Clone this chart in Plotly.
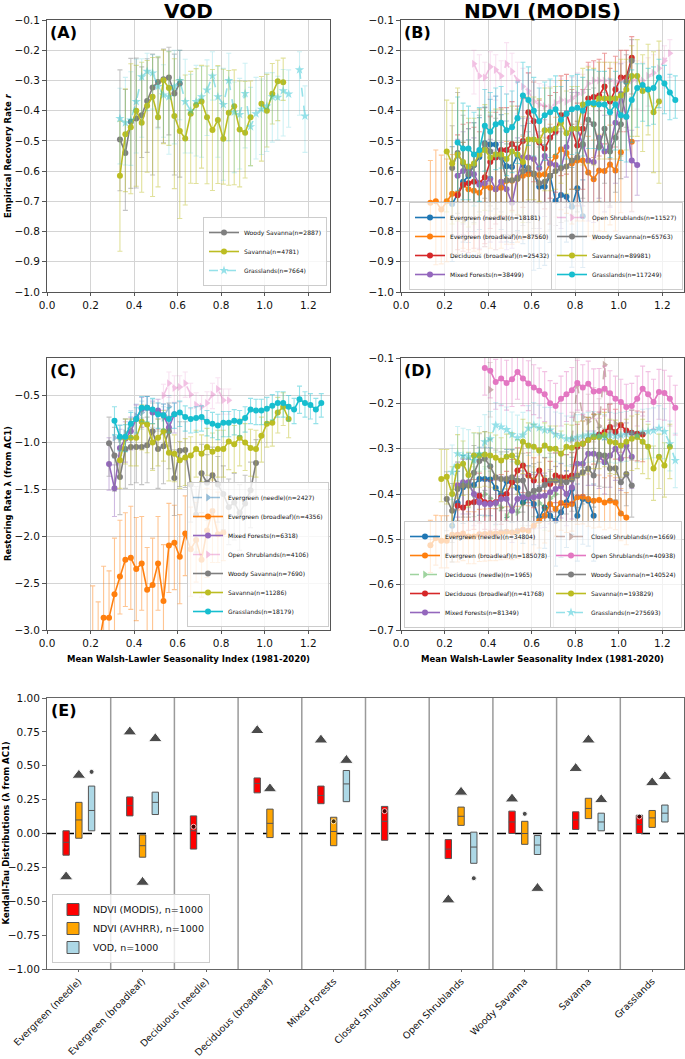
import plotly.graph_objects as go

FONT = "DejaVu Sans"

# ---------------- shared bin centres (Walsh-Lawler seasonality index) ----------------
BINS = [0.135, 0.16, 0.185, 0.21, 0.235, 0.26, 0.285, 0.31, 0.335, 0.36,
        0.385, 0.41, 0.435, 0.46, 0.485, 0.51, 0.535, 0.56, 0.585, 0.61,
        0.635, 0.66, 0.685, 0.71, 0.735, 0.76, 0.785, 0.81, 0.835, 0.86,
        0.885, 0.91, 0.935, 0.96, 0.985, 1.01, 1.035, 1.06, 1.085, 1.11,
        1.135, 1.16, 1.185, 1.21, 1.235, 1.26]

# ---------------- Panel A : VOD, empirical recovery rate ----------------
A_wsv_i0 = 8
A_wsv_y = [-0.495, -0.54, -0.437, -0.426, -0.415, -0.368, -0.323, -0.305, -0.296, -0.29, -0.343, -0.31]
A_wsv_up = [0.23, 0.21, 0.21, 0.20, 0.16, 0.14, 0.11, 0.08, 0.10, 0.10, 0.13, 0.11]
A_wsv_dn = [0.17, 0.19, 0.22, 0.23, 0.14, 0.17, 0.29, 0.15, 0.21, 0.19, 0.27, 0.31]

A_sav_i0 = 8
A_sav_y = [-0.615, -0.478, -0.455, -0.40, -0.44, -0.384, -0.354, -0.422, -0.299, -0.325,
           -0.418, -0.467, -0.492, -0.41, -0.381, -0.37, -0.422, -0.464, -0.431, -0.493,
           -0.407, -0.385, -0.462, -0.473, -0.422, None, -0.377, -0.40, -0.344, -0.303, -0.306]
A_sav_up = [0.18, 0.15, 0.21, 0.15, 0.20, 0.15, 0.13, 0.20, 0.10, 0.12, 0.19, 0.17, 0.21, 0.14, 0.12, 0.12,
            0.17, 0.20, 0.18, 0.23, 0.14, 0.12, 0.16, 0.17, 0.12, 0, 0.09, 0.12, 0.10, 0.07, 0.08]
A_sav_dn = [0.25, 0.19, 0.22, 0.25, 0.23, 0.22, 0.33, 0.23, 0.21, 0.19, 0.24, 0.29, 0.22, 0.23, 0.26, 0.22,
            0.22, 0.20, 0.21, 0.15, 0.24, 0.26, 0.19, 0.15, 0.16, 0, 0.19, 0.12, 0.10, 0.13, 0.06]

A_grs_i0 = 8
A_grs_y = [-0.426, -0.44, -0.431, -0.37, -0.288, -0.27, -0.275, -0.32, -0.348, -0.354,
           -0.32, -0.30, -0.37, -0.40, -0.37, -0.354, -0.332, -0.285, -0.354, -0.38,
           -0.30, -0.405, -0.413, -0.343, -0.453, -0.41, -0.395, -0.385, -0.354, -0.356,
           -0.334, -0.345, None, -0.265, -0.418]
A_grs_up = [0.10, 0.15, 0.16, 0.14, 0.06, 0.06, 0.06, 0.10, 0.10, 0.15, 0.12, 0.10, 0.14, 0.12, 0.12, 0.10,
            0.10, 0.08, 0.10, 0.12, 0.09, 0.10, 0.12, 0.10, 0.13, 0.12, 0.10, 0.11, 0.08, 0.07, 0.07, 0.08,
            0, 0.06, 0.10]
A_grs_dn = [0.15, 0.14, 0.15, 0.17, 0.20, 0.13, 0.12, 0.14, 0.14, 0.19, 0.19, 0.13, 0.17, 0.14, 0.18, 0.20,
            0.15, 0.08, 0.20, 0.25, 0.20, 0.20, 0.18, 0.18, 0.13, 0.15, 0.15, 0.15, 0.15, 0.14, 0.15, 0.11,
            0, 0.15, 0.12]

# ---------------- Panel B : NDVI (MODIS), empirical recovery rate ----------------
B_egn_i0 = 4
B_egn_y = [-0.709, -0.676, -0.635, -0.616, -0.58, -0.553, -0.508, -0.512, -0.512, -0.553,
           -0.584, -0.586, -0.547, -0.58, -0.602, -0.608, -0.652, -0.652, -0.616, -0.698,
           -0.679, -0.685, -0.718, -0.657, -0.749]
B_egn_up = [0.19, 0.12, 0.13, 0.12, 0.14, 0.13, 0.12, 0.15, 0.16, 0.14, 0.15, 0.14, 0.13, 0.13, 0.16, 0.17,
            0.15, 0.14, 0.16, 0.15, 0.15, 0.14, 0.13, 0.14, 0.12]
B_egn_dn = [0.19, 0.20, 0.20, 0.22, 0.22, 0.24, 0.25, 0.22, 0.24, 0.24, 0.25, 0.25, 0.25, 0.26, 0.28, 0.32,
            0.27, 0.26, 0.22, 0.18, 0.20, 0.15, 0.20, 0.16, 0.17]

B_egb_i0 = 0
B_egb_y = [-0.705, -0.70, -0.727, -0.70, -0.675, -0.675, -0.645, -0.66, -0.665, -0.672,
           -0.65, -0.655, -0.66, -0.655, -0.632, -0.632, -0.625, -0.615, -0.61, -0.61,
           -0.613, -0.61, -0.575, -0.552, -0.528, -0.54, -0.575, -0.565, -0.565, -0.605,
           -0.627, -0.598, -0.60, -0.578, -0.598, -0.538, None, -0.503]
B_egb_up = [0.14, 0.17, 0.18, 0.14, 0.13, 0.12, 0.14, 0.13, 0.12, 0.13, 0.12, 0.12, 0.12, 0.12, 0.13, 0.12,
            0.12, 0.13, 0.12, 0.12, 0.13, 0.12, 0.13, 0.13, 0.12, 0.13, 0.13, 0.13, 0.12, 0.12, 0.13, 0.12,
            0.12, 0.13, 0.12, 0.12, 0, 0.14]
B_egb_dn = [0.11, 0.21, 0.18, 0.20, 0.20, 0.20, 0.21, 0.20, 0.20, 0.20, 0.20, 0.20, 0.20, 0.20, 0.21, 0.21,
            0.21, 0.21, 0.21, 0.21, 0.21, 0.21, 0.20, 0.20, 0.20, 0.20, 0.20, 0.20, 0.20, 0.21, 0.20, 0.20,
            0.20, 0.20, 0.20, 0.20, 0, 0.23]

B_dbl_i0 = 5
B_dbl_y = [-0.68, -0.645, -0.64, -0.635, -0.64, -0.62, -0.57, -0.555, -0.53, -0.53,
           -0.51, -0.525, -0.50, -0.405, -0.435, -0.505, -0.525, -0.49, -0.47, -0.415,
           -0.41, -0.46, -0.515, -0.46, -0.36, -0.355, -0.35, -0.32, -0.37, -0.33,
           -0.29, -0.29, -0.225]
B_dbl_up = [0.20, 0.20, 0.20, 0.18, 0.17, 0.16, 0.15, 0.15, 0.14, 0.14, 0.14, 0.14, 0.14, 0.13, 0.13, 0.14,
            0.14, 0.14, 0.13, 0.13, 0.13, 0.13, 0.14, 0.13, 0.12, 0.12, 0.12, 0.11, 0.11, 0.11, 0.09, 0.09, 0.07]
B_dbl_dn = [0.18, 0.22, 0.23, 0.22, 0.22, 0.22, 0.22, 0.22, 0.22, 0.22, 0.22, 0.22, 0.22, 0.20, 0.20, 0.20,
            0.20, 0.20, 0.20, 0.20, 0.20, 0.20, 0.20, 0.20, 0.20, 0.20, 0.20, 0.19, 0.19, 0.19, 0.18, 0.18, 0.12]

B_mix_i0 = 5
B_mix_y = [-0.615, -0.60, -0.59, -0.61, -0.645, -0.64, -0.625, -0.66, -0.635, -0.66,
           -0.705, -0.62, -0.555, -0.555, -0.56, -0.59, -0.55, -0.575, -0.58, -0.59,
           -0.52, -0.46, -0.46, -0.515, -0.565, -0.57, -0.49, -0.535, -0.52, -0.44,
           -0.345, -0.42, -0.565, -0.58]
B_mix_up = [0.12, 0.13, 0.13, 0.12, 0.12, 0.13, 0.13, 0.13, 0.13, 0.13, 0.12, 0.13, 0.13, 0.13, 0.13, 0.12,
            0.12, 0.12, 0.12, 0.13, 0.12, 0.12, 0.12, 0.12, 0.12, 0.12, 0.12, 0.12, 0.12, 0.12, 0.10, 0.10,
            0.10, 0.08]
B_mix_dn = [0.20, 0.21, 0.21, 0.21, 0.21, 0.21, 0.21, 0.20, 0.20, 0.20, 0.15, 0.20, 0.20, 0.20, 0.20, 0.20,
            0.20, 0.20, 0.20, 0.20, 0.20, 0.20, 0.20, 0.20, 0.20, 0.20, 0.20, 0.20, 0.20, 0.20, 0.20, 0.20,
            0.17, 0.10]

B_osh_i0 = 8
B_osh_y = [-0.245, -0.285, -0.29, -0.255, -0.265, -0.285, -0.245, -0.27, -0.30, -0.32,
           -0.335, -0.37, -0.38, -0.385, -0.39, -0.375, -0.365, -0.37, -0.36, -0.345,
           -0.34, -0.31, -0.30, -0.30, -0.30, -0.30, -0.305, -0.30, -0.30, -0.30,
           -0.295, -0.30, -0.285, -0.275, -0.26, -0.235, -0.21]
B_osh_up = [0.045, 0.07, 0.05, 0.05, 0.05, 0.05, 0.07, 0.06, 0.06, 0.06, 0.06, 0.07, 0.07, 0.07, 0.07, 0.07,
            0.07, 0.07, 0.07, 0.07, 0.06, 0.06, 0.06, 0.06, 0.06, 0.06, 0.06, 0.06, 0.06, 0.06, 0.06, 0.06,
            0.06, 0.06, 0.06, 0.05, 0.045]
B_osh_dn = [0.10, 0.11, 0.10, 0.10, 0.10, 0.11, 0.10, 0.10, 0.11, 0.10, 0.10, 0.11, 0.10, 0.10, 0.10, 0.10,
            0.10, 0.10, 0.10, 0.10, 0.10, 0.10, 0.10, 0.10, 0.10, 0.10, 0.10, 0.10, 0.10, 0.10, 0.10, 0.10,
            0.10, 0.10, 0.10, 0.09, 0.08]

B_wsv_i0 = 4
B_wsv_y = [-0.59, -0.54, -0.575, -0.61, -0.58, -0.545, -0.51, -0.535, -0.545, -0.555,
           -0.63, -0.63, -0.625, -0.60, -0.59, -0.61, -0.64, -0.635, -0.615, -0.60,
           -0.59, -0.585, -0.565, -0.555, -0.51, -0.43, -0.445, -0.52, -0.46, -0.535,
           -0.49, -0.445, -0.305, -0.235]
B_wsv_up = [0.14, 0.20, 0.16, 0.15, 0.14, 0.13, 0.12, 0.12, 0.12, 0.12, 0.12, 0.12, 0.12, 0.12, 0.12, 0.12,
            0.12, 0.12, 0.12, 0.12, 0.12, 0.12, 0.12, 0.12, 0.12, 0.10, 0.12, 0.12, 0.12, 0.12, 0.12, 0.10,
            0.09, 0.07]
B_wsv_dn = [0.17, 0.20, 0.20, 0.19, 0.19, 0.19, 0.18, 0.18, 0.18, 0.18, 0.18, 0.18, 0.18, 0.18, 0.18, 0.18,
            0.18, 0.18, 0.18, 0.18, 0.18, 0.18, 0.18, 0.18, 0.18, 0.18, 0.18, 0.18, 0.18, 0.18, 0.18, 0.18,
            0.15, 0.12]

B_sav_i0 = 3
B_sav_y = [-0.535, -0.575, -0.545, -0.57, -0.585, -0.575, -0.545, -0.53, -0.555, -0.545,
           -0.545, -0.56, -0.535, -0.545, -0.57, -0.495, -0.495, -0.50, -0.465, -0.465,
           -0.46, -0.44, -0.475, -0.46, -0.46, -0.38, -0.375, -0.38, -0.36, -0.36,
           -0.36, -0.36, -0.35, -0.33, -0.285, -0.285, -0.335, -0.33, -0.405, -0.37]
B_sav_up = [0.17, 0.20, 0.22, 0.17, 0.16, 0.15, 0.15, 0.15, 0.15, 0.15, 0.15, 0.15, 0.15, 0.15, 0.15, 0.14,
            0.14, 0.14, 0.14, 0.14, 0.14, 0.14, 0.14, 0.14, 0.14, 0.12, 0.12, 0.12, 0.12, 0.12, 0.12, 0.12,
            0.12, 0.10, 0.10, 0.12, 0.12, 0.15, 0.20, 0.20]
B_sav_dn = [0.20, 0.20, 0.22, 0.20, 0.20, 0.20, 0.20, 0.20, 0.20, 0.20, 0.20, 0.20, 0.20, 0.20, 0.20, 0.20,
            0.20, 0.20, 0.20, 0.20, 0.20, 0.20, 0.20, 0.20, 0.20, 0.20, 0.20, 0.20, 0.20, 0.20, 0.20, 0.20,
            0.20, 0.20, 0.20, 0.20, 0.20, 0.15, 0.20, 0.27]

B_grs_i0 = 5
B_grs_y = [-0.505, -0.525, -0.525, -0.545, -0.53, -0.45, -0.47, -0.445, -0.44, -0.465,
           -0.455, -0.425, -0.35, -0.365, -0.40, -0.435, -0.415, -0.405, -0.395, -0.43,
           -0.41, -0.395, -0.39, -0.40, -0.375, -0.375, -0.38, -0.38, -0.405, -0.38,
           -0.415, -0.42, -0.365, -0.325, -0.315, -0.33, -0.325, -0.29, -0.31, -0.34, -0.365]
B_grs_up = [0.15, 0.15, 0.14, 0.14, 0.14, 0.12, 0.13, 0.12, 0.12, 0.12, 0.12, 0.12, 0.11, 0.11, 0.11, 0.11,
            0.11, 0.11, 0.11, 0.11, 0.11, 0.11, 0.11, 0.11, 0.11, 0.11, 0.11, 0.11, 0.11, 0.11, 0.11, 0.11,
            0.10, 0.08, 0.07, 0.07, 0.07, 0.06, 0.06, 0.06, 0.08]
B_grs_dn = [0.16, 0.17, 0.17, 0.17, 0.17, 0.15, 0.15, 0.15, 0.15, 0.15, 0.15, 0.15, 0.15, 0.15, 0.15, 0.15,
            0.15, 0.15, 0.15, 0.15, 0.15, 0.15, 0.15, 0.15, 0.15, 0.15, 0.15, 0.15, 0.15, 0.15, 0.15, 0.15,
            0.14, 0.13, 0.12, 0.12, 0.12, 0.10, 0.10, 0.09, 0.06]

# ---------------- Panel C : VOD, restoring rate ----------------
C_egn_i0 = 7
C_egn_y = [-0.95, -0.96, -0.90, -0.80, -0.72, -0.68, -0.63, -0.66, -0.70, -0.74, -0.62]
C_egn_up = [0.20, 0.15, 0.15, 0.14, 0.13, 0.12, 0.12, 0.12, 0.12, 0.12, 0.12]
C_egn_dn = [0.22, 0.18, 0.20, 0.20, 0.20, 0.18, 0.18, 0.18, 0.18, 0.18, 0.18]

C_egb_i0 = 3
C_egb_y = [-3.30, -3.20, -2.87, -2.87, -2.62, -2.43, -2.25, -2.23, -2.35, -2.29,
           -2.57, -2.52, -2.29, -2.69, -2.10, -2.07, -2.22, -1.97, -2.14, -2.04,
           -2.25, -1.94, -1.73, -1.98, -1.96]
C_egb_up = [0.77, 0.50, 0.55, 0.50, 0.60, 0.60, 0.50, 0.55, 0.55, 0.50, 0.45, 0.50, 0.50, 0.60, 0.45, 0.40,
            0.45, 0.40, 0.45, 0.40, 0.50, 0.45, 0.40, 0.45, 0.40]
C_egb_dn = [0.40, 0.40, 0.40, 0.40, 0.40, 0.40, 0.50, 0.55, 0.55, 0.50, 0.55, 0.50, 0.50, 0.45, 0.50, 0.50,
            0.50, 0.45, 0.50, 0.45, 0.40, 0.50, 0.55, 0.30, 0.30]

C_mix_i0 = 6
C_mix_y = [-1.23, -1.49, -1.06, -0.96, -0.88, -0.75, -0.64, -0.63, -0.68, -0.66, -0.71, -0.84, -0.70]
C_mix_up = [0.28, 0.25, 0.20, 0.18, 0.15, 0.15, 0.12, 0.12, 0.12, 0.12, 0.12, 0.12, 0.12]
C_mix_dn = [0.28, 0.30, 0.30, 0.25, 0.20, 0.20, 0.20, 0.20, 0.20, 0.20, 0.20, 0.20, 0.20]

C_osh_i0 = 16
C_osh_y = [-0.50, -0.37, -0.42, -0.41, -0.37, -0.49, -0.60, -0.62, -0.58, -0.49, -0.43, -0.55, -0.55]
C_osh_up = [0.12, 0.12, 0.13, 0.12, 0.12, 0.12, 0.13, 0.12, 0.12, 0.12, 0.12, 0.12, 0.12]
C_osh_dn = [0.15, 0.15, 0.15, 0.16, 0.15, 0.15, 0.15, 0.15, 0.16, 0.15, 0.15, 0.15, 0.15]

C_wsv_i0 = 6
C_wsv_y = [-1.01, -1.14, -1.37, -1.07, -1.05, -1.05, -1.05, -1.03, -0.88, -1.07,
           -1.04, -0.88, -1.38, -1.09, -1.08, -1.45, -1.77, -1.33, -1.43, -1.35,
           -1.45, -1.55, -1.69, -1.64, -1.75, -1.65, -1.51, -1.22]
C_wsv_up = [0.28, 0.30, 0.30, 0.32, 0.30, 0.30, 0.31, 0.30, 0.30, 0.32, 0.30, 0.30, 0.30, 0.31, 0.30, 0.30,
            0.30, 0.31, 0.30, 0.30, 0.30, 0.30, 0.30, 0.31, 0.30, 0.30, 0.30, 0.25]
C_wsv_dn = [0.35, 0.38, 0.40, 0.42, 0.40, 0.38, 0.40, 0.40, 0.40, 0.42, 0.40, 0.40, 0.40, 0.38, 0.40, 0.40,
            0.40, 0.42, 0.40, 0.40, 0.40, 0.38, 0.40, 0.40, 0.40, 0.38, 0.40, 0.35]

C_sav_i0 = 8
C_sav_y = [-1.19, -0.95, -0.95, -0.95, -0.78, -0.81, -1.00, -0.95, -0.88, -1.11,
           -1.12, -1.19, -1.16, -1.14, -1.07, -1.12, -1.05, -1.10, -1.07, -1.07,
           -0.99, -1.02, -0.95, -1.00, -1.06, -1.07, -0.93, -0.80, -0.79, -0.68, -0.62, -0.75]
C_sav_up = [0.22, 0.20, 0.20, 0.20, 0.18, 0.20, 0.20, 0.20, 0.22, 0.22, 0.20, 0.20, 0.20, 0.20, 0.20, 0.20,
            0.20, 0.20, 0.20, 0.20, 0.20, 0.20, 0.20, 0.20, 0.20, 0.20, 0.20, 0.18, 0.18, 0.16, 0.15, 0.15]
C_sav_dn = [0.30, 0.28, 0.30, 0.30, 0.30, 0.30, 0.30, 0.30, 0.32, 0.30, 0.30, 0.30, 0.30, 0.30, 0.30, 0.30,
            0.30, 0.30, 0.30, 0.30, 0.30, 0.30, 0.30, 0.30, 0.30, 0.30, 0.28, 0.25, 0.25, 0.22, 0.20, 0.20]

C_grs_i0 = 7
C_grs_y = [-0.77, -0.94, -0.94, -0.80, -0.75, -0.63, -0.63, -0.65, -0.70, -0.71,
           -0.75, -0.70, -0.68, -0.73, -0.75, -0.74, -0.73, -0.78, -0.80, -0.82,
           -0.79, -0.79, -0.77, -0.78, -0.74, -0.65, -0.66, -0.66, -0.64, -0.61,
           -0.58, -0.58, -0.62, -0.65, -0.54, -0.58, -0.60, -0.65, -0.58]
C_grs_up = [0.15, 0.12, 0.13, 0.12, 0.12, 0.12, 0.12, 0.12, 0.12, 0.12, 0.12, 0.12, 0.12, 0.12, 0.12, 0.12,
            0.12, 0.12, 0.12, 0.12, 0.12, 0.12, 0.12, 0.12, 0.12, 0.12, 0.12, 0.12, 0.12, 0.12, 0.12, 0.12,
            0.12, 0.12, 0.14, 0.12, 0.12, 0.12, 0.10]
C_grs_dn = [0.15, 0.15, 0.16, 0.15, 0.15, 0.15, 0.15, 0.15, 0.15, 0.15, 0.15, 0.15, 0.15, 0.15, 0.15, 0.15,
            0.15, 0.15, 0.15, 0.15, 0.15, 0.15, 0.15, 0.15, 0.15, 0.15, 0.15, 0.15, 0.15, 0.15, 0.15, 0.15,
            0.15, 0.15, 0.15, 0.15, 0.15, 0.15, 0.15]

# ---------------- Panel D : NDVI (MODIS), restoring rate ----------------
D_egn_i0 = 4
D_egn_y = [-0.47, -0.42, -0.385, -0.38, -0.38, -0.367, -0.367, -0.368, -0.387, -0.40,
           -0.372, -0.372, -0.387, -0.419, -0.407, -0.422, -0.452, -0.43, -0.448, -0.459,
           -0.44, -0.418, -0.389, -0.448, -0.411, -0.415, -0.448]
D_egn_up = [0.08, 0.07, 0.07, 0.07, 0.07, 0.07, 0.07, 0.07, 0.07, 0.07, 0.07, 0.07, 0.07, 0.07, 0.07, 0.07,
            0.07, 0.07, 0.07, 0.07, 0.07, 0.07, 0.07, 0.07, 0.07, 0.07, 0.07]
D_egn_dn = [0.08, 0.08, 0.08, 0.08, 0.08, 0.08, 0.08, 0.08, 0.08, 0.08, 0.08, 0.09, 0.09, 0.09, 0.09, 0.09,
            0.09, 0.09, 0.09, 0.10, 0.10, 0.10, 0.10, 0.10, 0.10, 0.10, 0.10]

D_egb_i0 = 0
D_egb_y = [-0.513, -0.497, -0.503, -0.503, -0.49, -0.49, -0.487, -0.494, -0.494, -0.489,
           -0.488, -0.487, -0.487, -0.485, -0.483, -0.485, -0.482, -0.479, -0.481, -0.47,
           -0.459, -0.448, -0.422, -0.433, -0.42, -0.425, -0.422, -0.407, -0.406, -0.411,
           -0.415, -0.413, -0.419, -0.415, -0.419, -0.443, -0.452]
D_egb_up = [0.055, 0.05, 0.055, 0.055, 0.055, 0.055, 0.055, 0.055, 0.055, 0.055, 0.055, 0.055, 0.055, 0.055,
            0.055, 0.055, 0.055, 0.055, 0.055, 0.055, 0.055, 0.055, 0.055, 0.055, 0.055, 0.055, 0.055, 0.055,
            0.055, 0.055, 0.055, 0.055, 0.055, 0.055, 0.055, 0.055, 0.055]
D_egb_dn = [0.06, 0.06, 0.06, 0.06, 0.06, 0.06, 0.06, 0.06, 0.06, 0.06, 0.06, 0.06, 0.06, 0.06, 0.06, 0.06,
            0.06, 0.06, 0.06, 0.06, 0.06, 0.06, 0.06, 0.06, 0.06, 0.06, 0.06, 0.06, 0.06, 0.06, 0.06, 0.06,
            0.06, 0.06, 0.06, 0.06, 0.06]

D_dnd_i0 = 7
D_dnd_y = [-0.38, -0.40, -0.41, -0.40, -0.41, -0.42, -0.43, -0.45, -0.43, -0.44, -0.42, -0.41, -0.40,
           -0.42, -0.43, -0.41, -0.40]
D_dnd_up = [0.06, 0.06, 0.06, 0.06, 0.06, 0.06, 0.06, 0.06, 0.06, 0.06, 0.06, 0.06, 0.06, 0.06, 0.06, 0.06, 0.06]
D_dnd_dn = [0.05, 0.05, 0.05, 0.05, 0.05, 0.05, 0.05, 0.05, 0.05, 0.05, 0.05, 0.05, 0.05, 0.05, 0.05, 0.05, 0.05]

D_dbl_i0 = 5
D_dbl_y = [-0.426, -0.43, -0.42, -0.418, -0.404, -0.418, -0.42, -0.418, -0.407, -0.40,
           -0.374, -0.348, -0.337, -0.359, -0.37, -0.348, -0.37, -0.378, -0.359, -0.363,
           -0.363, -0.359, -0.296, -0.289, -0.281, -0.274, -0.269, -0.263, -0.252, -0.263,
           -0.248, -0.26, -0.265, -0.267, -0.269]
D_dbl_up = [0.05, 0.05, 0.05, 0.05, 0.05, 0.05, 0.05, 0.05, 0.05, 0.05, 0.05, 0.05, 0.05, 0.05, 0.05, 0.05,
            0.05, 0.05, 0.05, 0.05, 0.05, 0.05, 0.05, 0.05, 0.05, 0.05, 0.05, 0.05, 0.05, 0.05, 0.05, 0.05,
            0.05, 0.05, 0.05]
D_dbl_dn = [0.06, 0.06, 0.06, 0.06, 0.06, 0.06, 0.06, 0.06, 0.06, 0.06, 0.06, 0.06, 0.06, 0.06, 0.06, 0.06,
            0.06, 0.06, 0.06, 0.06, 0.06, 0.06, 0.06, 0.06, 0.06, 0.06, 0.06, 0.06, 0.06, 0.06, 0.06, 0.06,
            0.06, 0.06, 0.06]

D_mix_i0 = 5
D_mix_y = [-0.381, -0.374, -0.374, -0.40, -0.419, -0.422, -0.422, -0.42, -0.411, -0.411,
           -0.437, -0.411, -0.407, -0.407, -0.407, -0.405, -0.404, -0.396, -0.389, -0.383,
           -0.40, -0.385, -0.333, -0.333, -0.311, -0.311, -0.318, -0.33, -0.315, -0.30,
           -0.322, -0.293, -0.318]
D_mix_up = [0.05, 0.05, 0.05, 0.05, 0.05, 0.05, 0.05, 0.05, 0.05, 0.05, 0.05, 0.05, 0.05, 0.05, 0.05, 0.05,
            0.05, 0.05, 0.05, 0.05, 0.05, 0.05, 0.05, 0.05, 0.05, 0.05, 0.05, 0.05, 0.05, 0.05, 0.05, 0.05, 0.05]
D_mix_dn = [0.07, 0.07, 0.07, 0.07, 0.07, 0.07, 0.07, 0.07, 0.07, 0.07, 0.07, 0.07, 0.07, 0.07, 0.07, 0.07,
            0.07, 0.07, 0.07, 0.07, 0.07, 0.07, 0.07, 0.07, 0.07, 0.07, 0.07, 0.07, 0.07, 0.07, 0.07, 0.07, 0.07]

D_csh_i0 = 11
D_csh_y = [-0.17, None, None, None, None, None, None, None, None, None, None, None, None, None, None,
           -0.28, -0.16, -0.23, -0.24, -0.225, -0.25, -0.115, -0.26, -0.245]
D_csh_up = [0.06, 0, 0, 0, 0, 0, 0, 0, 0, 0, 0, 0, 0, 0, 0, 0.06, 0.06, 0.06, 0.06, 0.06, 0.06, 0.06, 0.06, 0.06]
D_csh_dn = [0.06, 0, 0, 0, 0, 0, 0, 0, 0, 0, 0, 0, 0, 0, 0, 0.06, 0.06, 0.06, 0.06, 0.06, 0.06, 0.06, 0.06, 0.06]

D_osh_i0 = 10
D_osh_y = [-0.122, -0.128, -0.153, -0.145, -0.155, -0.147, -0.131, -0.145, -0.156, -0.165,
           -0.172, -0.18, -0.20, -0.206, -0.19, -0.18, -0.171, -0.155, -0.165, -0.157,
           -0.174, -0.173, -0.168, -0.178, -0.19, -0.197, -0.208, -0.206, -0.19, -0.168,
           -0.18, -0.197, -0.175, -0.177, -0.19, -0.21]
D_osh_up = [0.04, 0.04, 0.05, 0.05, 0.05, 0.05, 0.05, 0.05, 0.05, 0.05, 0.05, 0.05, 0.05, 0.05, 0.05, 0.05,
            0.05, 0.05, 0.05, 0.05, 0.05, 0.05, 0.05, 0.05, 0.05, 0.05, 0.05, 0.05, 0.05, 0.05, 0.05, 0.05,
            0.05, 0.05, 0.05, 0.05]
D_osh_dn = [0.06, 0.06, 0.06, 0.06, 0.06, 0.06, 0.06, 0.06, 0.06, 0.06, 0.06, 0.06, 0.06, 0.06, 0.06, 0.06,
            0.06, 0.06, 0.06, 0.06, 0.06, 0.06, 0.06, 0.06, 0.06, 0.06, 0.06, 0.06, 0.06, 0.06, 0.06, 0.06,
            0.06, 0.06, 0.06, 0.06]

D_wsv_i0 = 3
D_wsv_y = [-0.411, -0.437, -0.389, -0.381, -0.381, -0.353, -0.327, -0.322, -0.339, -0.363,
           -0.367, -0.367, -0.363, -0.37, -0.37, -0.40, -0.393, -0.39, -0.38, -0.37,
           -0.37, -0.372, -0.374, -0.368, -0.36, -0.352, -0.344, -0.359, -0.313, -0.315,
           -0.344, -0.343, -0.374, -0.356, -0.381]
D_wsv_up = [0.06, 0.06, 0.06, 0.06, 0.06, 0.06, 0.06, 0.06, 0.06, 0.06, 0.06, 0.06, 0.06, 0.06, 0.06, 0.06,
            0.06, 0.06, 0.06, 0.06, 0.06, 0.06, 0.06, 0.06, 0.06, 0.06, 0.06, 0.06, 0.06, 0.06, 0.06, 0.06,
            0.06, 0.06, 0.06]
D_wsv_dn = [0.07, 0.07, 0.07, 0.07, 0.07, 0.07, 0.07, 0.07, 0.07, 0.07, 0.07, 0.07, 0.07, 0.07, 0.07, 0.07,
            0.07, 0.07, 0.07, 0.07, 0.07, 0.07, 0.07, 0.07, 0.07, 0.07, 0.07, 0.07, 0.07, 0.07, 0.07, 0.07,
            0.07, 0.07, 0.07]

D_sav_i0 = 2
D_sav_y = [-0.367, -0.362, -0.40, -0.339, -0.333, -0.358, -0.315, -0.315, -0.313, -0.315,
           -0.32, -0.326, -0.318, -0.315, -0.33, -0.285, -0.293, -0.296, -0.304, -0.293,
           -0.30, -0.30, -0.311, -0.296, -0.298, -0.291, -0.289, -0.281, -0.274, -0.274,
           -0.27, -0.285, -0.287, -0.293, -0.285, -0.278, -0.274, -0.285, -0.296, -0.344,
           -0.318, -0.337, -0.296]
D_sav_up = [0.065, 0.06, 0.06, 0.07, 0.05, 0.05, 0.05, 0.05, 0.05, 0.05, 0.05, 0.05, 0.05, 0.05, 0.05, 0.05,
            0.05, 0.05, 0.05, 0.05, 0.05, 0.05, 0.05, 0.05, 0.05, 0.05, 0.05, 0.05, 0.05, 0.05, 0.05, 0.05,
            0.05, 0.05, 0.05, 0.05, 0.05, 0.05, 0.05, 0.05, 0.05, 0.05, 0.05]
D_sav_dn = [0.05, 0.06, 0.07, 0.07, 0.07, 0.07, 0.07, 0.07, 0.07, 0.07, 0.07, 0.07, 0.07, 0.07, 0.07, 0.07,
            0.07, 0.07, 0.07, 0.07, 0.07, 0.07, 0.07, 0.07, 0.07, 0.07, 0.07, 0.07, 0.07, 0.07, 0.07, 0.07,
            0.07, 0.07, 0.07, 0.07, 0.07, 0.07, 0.07, 0.07, 0.07, 0.07, 0.07]

D_grs_i0 = 4
D_grs_y = [-0.352, -0.311, -0.315, -0.318, -0.326, -0.311, -0.285, -0.278, -0.248, -0.252,
           -0.258, -0.269, -0.276, -0.27, -0.255, -0.248, -0.254, -0.259, -0.259, -0.269,
           -0.272, -0.278, -0.278, -0.275, -0.272, -0.27, -0.268, -0.272, -0.275, -0.27,
           -0.272, -0.27, -0.268, -0.265, -0.27, -0.263, -0.262, -0.26, -0.255, -0.262,
           -0.289, -0.326]
D_grs_up = [0.06, 0.06, 0.06, 0.06, 0.06, 0.06, 0.06, 0.06, 0.05, 0.05, 0.05, 0.05, 0.05, 0.05, 0.05, 0.05,
            0.05, 0.05, 0.05, 0.05, 0.05, 0.05, 0.05, 0.05, 0.05, 0.05, 0.05, 0.05, 0.05, 0.05, 0.05, 0.05,
            0.05, 0.05, 0.05, 0.05, 0.05, 0.05, 0.05, 0.05, 0.05, 0.06]
D_grs_dn = [0.06, 0.06, 0.06, 0.06, 0.06, 0.06, 0.06, 0.06, 0.06, 0.06, 0.06, 0.06, 0.06, 0.06, 0.06, 0.06,
            0.06, 0.06, 0.06, 0.06, 0.06, 0.06, 0.06, 0.06, 0.06, 0.06, 0.06, 0.06, 0.06, 0.06, 0.06, 0.06,
            0.06, 0.06, 0.06, 0.06, 0.06, 0.06, 0.06, 0.06, 0.06, 0.06]

# ---------------- Panel E : Kendall-Tau distributions ----------------
E_cats = ["Evergreen (needle)", "Evergreen (broadleaf)", "Deciduous (needle)", "Deciduous (broadleaf)",
          "Mixed Forests", "Closed Shrublands", "Open Shrublands", "Woody Savanna", "Savanna", "Grasslands"]
E_modis_q1 = [-0.16, 0.13, -0.115, 0.30, 0.22, -0.05, -0.185, 0.0, 0.03, 0.0]
E_modis_med = [-0.065, 0.205, 0.02, 0.37, 0.28, 0.09, -0.115, 0.085, 0.10, 0.065]
E_modis_q3 = [0.02, 0.27, 0.13, 0.41, 0.35, 0.20, -0.045, 0.165, 0.16, 0.135]
E_modis_obs = [-0.32, 0.75, 0.05, 0.76, 0.69, 0.165, -0.49, 0.255, 0.48, 0.125]
E_modis_kind = ["tri", "tri", "dot", "tri", "tri", "dot", "tri", "tri", "tri", "dot"]

E_avhrr_q1 = [-0.035, -0.175, None, -0.03, -0.09, None, 0.06, -0.08, 0.11, 0.045]
E_avhrr_med = [0.10, -0.09, None, 0.075, 0.015, None, 0.127, 0.0, 0.185, 0.115]
E_avhrr_q3 = [0.23, -0.01, None, 0.18, 0.12, None, 0.195, 0.09, 0.26, 0.17]
E_avhrr_obs = [0.43, -0.36, None, 0.33, 0.09, None, 0.305, 0.145, 0.69, 0.375]
E_avhrr_kind = ["tri", "tri", None, "tri", "dot", None, "tri", "dot", "tri", "tri"]

E_vod_q1 = [0.02, 0.14, None, None, 0.235, None, -0.22, -0.155, 0.02, 0.085]
E_vod_med = [0.17, 0.23, None, None, 0.366, None, -0.10, -0.085, 0.085, 0.15]
E_vod_q3 = [0.35, 0.305, None, None, 0.465, None, 0.01, -0.015, 0.15, 0.21]
E_vod_obs = [0.455, 0.70, None, None, 0.54, None, -0.33, -0.405, 0.25, 0.42]
E_vod_kind = ["dot", "tri", None, None, "tri", None, "dot", "tri", "tri", "tri"]

# ---------------- styling ----------------
C_BLUE, C_ORANGE, C_GREEN, C_RED = "#1f77b4", "#ff7f0e", "#2ca02c", "#d62728"
C_PURPLE, C_BROWN, C_PINK, C_GRAY = "#9467bd", "#8c564b", "#e377c2", "#7f7f7f"
C_OLIVE, C_CYAN = "#bcbd22", "#17becf"


def rgba(hexc, a):
    h = hexc.lstrip("#")
    return "rgba(%d,%d,%d,%.2f)" % (int(h[0:2], 16), int(h[2:4], 16), int(h[4:6], 16), a)


fig = go.Figure()


def fit(lst, n):
    lst = list(lst)[:n]
    return lst + [0] * (n - len(lst))


def series(k, legend, name, i0, y, up, dn, color, faded=False, symbol="circle"):
    n = len(y)
    x = BINS[i0:i0 + n]
    up = [u if v is not None else 0 for u, v in zip(fit(up, n), y)]
    dn = [d if v is not None else 0 for d, v in zip(fit(dn, n), y)]
    suffix = "" if k == 1 else str(k)
    fig.add_trace(go.Scatter(
        x=x, y=y, mode="lines+markers", name=name,
        legend=legend, xaxis="x" + suffix, yaxis="y" + suffix,
        line=dict(color=color, width=1.6, dash="dash" if faded else "solid"),
        marker=dict(symbol=symbol, size=7 if symbol != "circle" else 6, color=color,
                    line=dict(width=0)),
        opacity=0.45 if faded else 1.0,
        error_y=dict(type="data", symmetric=False, array=up, arrayminus=dn,
                     color=rgba(color, 0.45), thickness=1.1, width=2.5),
        hoverinfo="skip"))


# Panel A
series(1, "legend", "Woody Savanna(n=2887)", A_wsv_i0, A_wsv_y, A_wsv_up, A_wsv_dn, C_GRAY)
series(1, "legend", "Savanna(n=4781)", A_sav_i0, A_sav_y, A_sav_up, A_sav_dn, C_OLIVE)
series(1, "legend", "Grasslands(n=7664)", A_grs_i0, A_grs_y, A_grs_up, A_grs_dn, C_CYAN, True, "star")
# Panel B (legend split over two columns)
series(2, "legend2", "Evergreen (needle)(n=18181)", B_egn_i0, B_egn_y, B_egn_up, B_egn_dn, C_BLUE)
series(2, "legend2", "Evergreen (broadleaf)(n=87560)", B_egb_i0, B_egb_y, B_egb_up, B_egb_dn, C_ORANGE)
series(2, "legend2", "Deciduous (broadleaf)(n=25432)", B_dbl_i0, B_dbl_y, B_dbl_up, B_dbl_dn, C_RED)
series(2, "legend2", "Mixed Forests(n=38499)", B_mix_i0, B_mix_y, B_mix_up, B_mix_dn, C_PURPLE)
series(2, "legend6", "Open Shrublands(n=11527)", B_osh_i0, B_osh_y, B_osh_up, B_osh_dn, C_PINK, True,
       "triangle-right")
series(2, "legend6", "Woody Savanna(n=65763)", B_wsv_i0, B_wsv_y, B_wsv_up, B_wsv_dn, C_GRAY)
series(2, "legend6", "Savanna(n=89981)", B_sav_i0, B_sav_y, B_sav_up, B_sav_dn, C_OLIVE)
series(2, "legend6", "Grasslands(n=117249)", B_grs_i0, B_grs_y, B_grs_up, B_grs_dn, C_CYAN)
# Panel C
series(3, "legend3", "Evergreen (needle)(n=2427)", C_egn_i0, C_egn_y, C_egn_up, C_egn_dn, C_BLUE, True,
       "triangle-right")
series(3, "legend3", "Evergreen (broadleaf)(n=4356)", C_egb_i0, C_egb_y, C_egb_up, C_egb_dn, C_ORANGE)
series(3, "legend3", "Mixed Forests(n=6318)", C_mix_i0, C_mix_y, C_mix_up, C_mix_dn, C_PURPLE)
series(3, "legend3", "Open Shrublands(n=4106)", C_osh_i0, C_osh_y, C_osh_up, C_osh_dn, C_PINK, True,
       "triangle-right")
series(3, "legend3", "Woody Savanna(n=7690)", C_wsv_i0, C_wsv_y, C_wsv_up, C_wsv_dn, C_GRAY)
series(3, "legend3", "Savanna(n=11286)", C_sav_i0, C_sav_y, C_sav_up, C_sav_dn, C_OLIVE)
series(3, "legend3", "Grasslands(n=18179)", C_grs_i0, C_grs_y, C_grs_up, C_grs_dn, C_CYAN)
# Panel D (legend split over two columns)
series(4, "legend4", "Evergreen (needle)(n=34804)", D_egn_i0, D_egn_y, D_egn_up, D_egn_dn, C_BLUE)
series(4, "legend4", "Evergreen (broadleaf)(n=185078)", D_egb_i0, D_egb_y, D_egb_up, D_egb_dn, C_ORANGE)
series(4, "legend4", "Deciduous (needle)(n=1965)", D_dnd_i0, D_dnd_y, D_dnd_up, D_dnd_dn, C_GREEN, True,
       "triangle-right")
series(4, "legend4", "Deciduous (broadleaf)(n=41768)", D_dbl_i0, D_dbl_y, D_dbl_up, D_dbl_dn, C_RED)
series(4, "legend4", "Mixed Forests(n=81349)", D_mix_i0, D_mix_y, D_mix_up, D_mix_dn, C_PURPLE)
series(4, "legend7", "Closed Shrublands(n=1669)", D_csh_i0, D_csh_y, D_csh_up, D_csh_dn, C_BROWN, True,
       "triangle-right")
series(4, "legend7", "Open Shrublands(n=40938)", D_osh_i0, D_osh_y, D_osh_up, D_osh_dn, C_PINK)
series(4, "legend7", "Woody Savanna(n=140524)", D_wsv_i0, D_wsv_y, D_wsv_up, D_wsv_dn, C_GRAY)
series(4, "legend7", "Savanna(n=193829)", D_sav_i0, D_sav_y, D_sav_up, D_sav_dn, C_OLIVE)
series(4, "legend7", "Grasslands(n=275693)", D_grs_i0, D_grs_y, D_grs_up, D_grs_dn, C_CYAN, True, "star")

# Panel E boxes
E_OFFSET = {"modis": -0.2, "avhrr": 0.0, "vod": 0.2}


def e_group(key, name, color, q1, med, q3, obs, kind):
    idx = [i for i, v in enumerate(med) if v is not None]
    xs = [i + E_OFFSET[key] for i in idx]
    fig.add_trace(go.Box(
        x=xs, q1=[q1[i] for i in idx], median=[med[i] for i in idx], q3=[q3[i] for i in idx],
        lowerfence=[q1[i] for i in idx], upperfence=[q3[i] for i in idx],
        width=0.1, whiskerwidth=0, fillcolor=color, line=dict(color="#555555", width=1),
        name=name, legend="legend5", xaxis="x5", yaxis="y5", boxpoints=False, hoverinfo="skip"))
    oi = [i for i, v in enumerate(obs) if v is not None]
    fig.add_trace(go.Scatter(
        x=[i + E_OFFSET[key] for i in oi], y=[obs[i] for i in oi], mode="markers",
        marker=dict(symbol=["triangle-up" if kind[i] == "tri" else "circle" for i in oi],
                    size=[12 if kind[i] == "tri" else 5 for i in oi], color="black"),
        showlegend=False, xaxis="x5", yaxis="y5", hoverinfo="skip"))


e_group("modis", "NDVI (MODIS), n=1000", "#ff0000", E_modis_q1, E_modis_med, E_modis_q3, E_modis_obs, E_modis_kind)
e_group("avhrr", "NDVI (AVHRR), n=1000", "#ffa500", E_avhrr_q1, E_avhrr_med, E_avhrr_q3, E_avhrr_obs, E_avhrr_kind)
e_group("vod", "VOD, n=1000", "#add8e6", E_vod_q1, E_vod_med, E_vod_q3, E_vod_obs, E_vod_kind)

# ---------------- layout ----------------
W, H = 685, 1059
XL = [47 / W, 330 / W]
XR = [401 / W, 684 / W]
YTOP = [1 - 292 / H, 1 - 20 / H]
YMID = [1 - 630 / H, 1 - 358 / H]
YBOT = [1 - 969 / H, 1 - 698 / H]

TICKF = dict(family=FONT, size=10.5, color="#111")
GRID = "#d4d4d4"
LINEC = "#555555"


def xax(dom, anchor):
    return dict(domain=dom, anchor=anchor, range=[0, 1.3], tick0=0, dtick=0.2, tickformat=".1f",
                showgrid=True, gridcolor=GRID, gridwidth=1, zeroline=False, automargin=False,
                showline=True, mirror=True, linecolor=LINEC, linewidth=1,
                ticks="outside", ticklen=3, tickcolor=LINEC, tickfont=TICKF)


def yax(dom, anchor, rng, dt):
    return dict(domain=dom, anchor=anchor, range=rng, tick0=0, dtick=dt, tickformat=".1f",
                showgrid=True, gridcolor=GRID, gridwidth=1, zeroline=False, automargin=False,
                showline=True, mirror=True, linecolor=LINEC, linewidth=1,
                ticks="outside", ticklen=4, tickcolor=LINEC, tickfont=TICKF)


def leg(x, y, xanchor="right", size=6, alpha=0.8):
    return dict(x=x, y=y, xanchor=xanchor, yanchor="bottom", xref="paper", yref="paper",
                font=dict(family=FONT, size=size, color="#111"),
                bgcolor="rgba(255,255,255,%.2f)" % alpha, bordercolor="#cccccc", borderwidth=1,
                itemwidth=30, tracegroupgap=0)


layout = dict(
    width=W, height=H, margin=dict(l=0, r=0, t=0, b=0, autoexpand=False),
    paper_bgcolor="white", plot_bgcolor="white",
    font=dict(family=FONT, color="#111"),
    showlegend=True, boxmode="overlay",
    xaxis=xax(XL, "y"), yaxis=yax(YTOP, "x", [-1.0, -0.1], 0.1),
    xaxis2=xax(XR, "y2"), yaxis2=yax(YTOP, "x2", [-1.0, -0.1], 0.1),
    xaxis3=xax(XL, "y3"), yaxis3=yax(YMID, "x3", [-3.0, -0.1], 0.5),
    xaxis4=xax(XR, "y4"), yaxis4=yax(YMID, "x4", [-0.7, -0.1], 0.1),
    xaxis5=dict(domain=[XL[0], XR[1]], anchor="y5", range=[-0.5, len(E_cats) - 0.5],
                tickmode="array", tickvals=list(range(len(E_cats))), ticktext=E_cats,
                tickangle=-45, showgrid=False, zeroline=False, showline=True, mirror=True,
                linecolor="#666", linewidth=1, ticks="outside", ticklen=2, tickcolor="#666",
                tickfont=dict(family=FONT, size=9.5, color="#111"), automargin=False),
    yaxis5=dict(domain=YBOT, anchor="x5", range=[-1.0, 1.0], tick0=0, dtick=0.25, tickformat=".2f",
                showgrid=False, zeroline=False, showline=True, mirror=True, linecolor="#666",
                linewidth=1, ticks="outside", ticklen=4, tickcolor="#666", tickfont=TICKF,
                automargin=False),
    legend=leg(327 / W, 1 - 286 / H),
    legend2=leg(556 / W, 1 - 290 / H, alpha=0.7),
    legend6=leg(683 / W, 1 - 290 / H, alpha=0.7),
    legend3=leg(329 / W, 1 - 627 / H),
    legend4=leg(554 / W, 1 - 628 / H, alpha=0.7),
    legend7=leg(682 / W, 1 - 628 / H, alpha=0.7),
    legend5=leg(52 / W, 1 - 963 / H, "left", 9.5),
)
fig.update_layout(**layout)

# separators and zero line for panel E
shapes = []
for i in range(len(E_cats) - 1):
    shapes.append(dict(type="line", xref="x5", yref="y5 domain", x0=i + 0.5, x1=i + 0.5, y0=0, y1=1,
                       line=dict(color="#9a9a9a", width=1.5), layer="below"))
shapes.append(dict(type="line", xref="x5 domain", yref="y5", x0=0, x1=1, y0=0, y1=0,
                   line=dict(color="black", width=1.4, dash="dash"), layer="below"))
fig.update_layout(shapes=shapes)

ann = []
ann.append(dict(text="<b>VOD</b>", x=(XL[0] + XL[1]) / 2, y=1 - 11 / H, xref="paper", yref="paper",
                xanchor="center", yanchor="middle", showarrow=False,
                font=dict(family=FONT, size=20, color="black")))
ann.append(dict(text="<b>NDVI (MODIS)</b>", x=(XR[0] + XR[1]) / 2, y=1 - 11 / H, xref="paper",
                yref="paper", xanchor="center", yanchor="middle", showarrow=False,
                font=dict(family=FONT, size=20, color="black")))
for lab, ax in [("(A)", ""), ("(B)", "2"), ("(C)", "3"), ("(D)", "4"), ("(E)", "5")]:
    ann.append(dict(text="<b>%s</b>" % lab, x=0.003, y=0.998, xref="x%s domain" % ax,
                    yref="y%s domain" % ax, xanchor="left", yanchor="top", showarrow=False,
                    font=dict(family=FONT, size=16, color="black")))
ann.append(dict(text="<b>Empirical Recovery Rate <i>r</i></b>", x=8 / W, y=(YTOP[0] + YTOP[1]) / 2,
                xref="paper", yref="paper", xanchor="center", yanchor="middle", textangle=-90,
                showarrow=False, font=dict(family=FONT, size=8.5, color="black")))
ann.append(dict(text="<b>Restoring Rate λ (from AC1)</b>", x=8 / W, y=(YMID[0] + YMID[1]) / 2,
                xref="paper", yref="paper", xanchor="center", yanchor="middle", textangle=-90,
                showarrow=False, font=dict(family=FONT, size=8.5, color="black")))
ann.append(dict(text="<b>Kendall-Tau Distributions (λ from AC1)</b>", x=5 / W,
                y=(YBOT[0] + YBOT[1]) / 2, xref="paper", yref="paper", xanchor="center",
                yanchor="middle", textangle=-90, showarrow=False,
                font=dict(family=FONT, size=8.5, color="black")))
for dom in (XL, XR):
    ann.append(dict(text="<b>Mean Walsh-Lawler Seasonality Index (1981-2020)</b>",
                    x=(dom[0] + dom[1]) / 2, y=1 - 652 / H, xref="paper", yref="paper",
                    xanchor="center", yanchor="top", showarrow=False,
                    font=dict(family=FONT, size=8.5, color="black")))
fig.update_layout(annotations=ann)

fig.write_html("out.html", config={"displayModeBar": False},
               post_script="document.body.style.margin='0px';"
                           "document.documentElement.style.overflow='hidden';")
